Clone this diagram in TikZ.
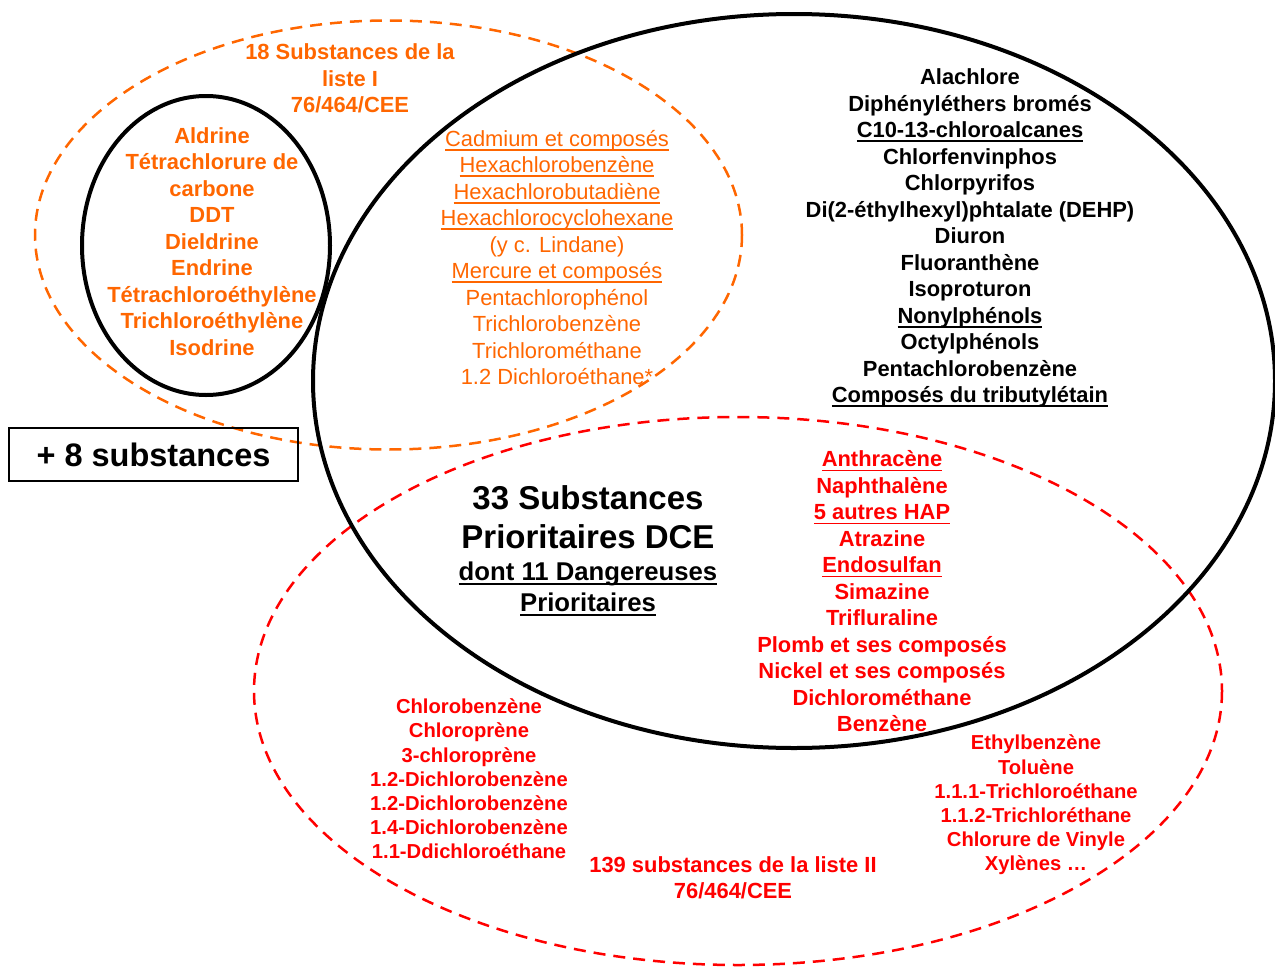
\documentclass[tikz,border=0pt]{standalone}
\usepackage{fontspec}
\setmainfont{Liberation Sans}
\definecolor{orng}{HTML}{FF6600}
\definecolor{rd}{HTML}{FF0000}
\newcommand{\ul}[1]{\setbox0\hbox{#1}\leavevmode\rlap{\rule[-0.2em]{\wd0}{0.08em}}\box0}
\begin{document}
\begin{tikzpicture}[x=1pt,y=-1pt,
  lst/.style={align=center,inner sep=0pt,font=\fontsize{21.9}{26.5}\selectfont\bfseries},
  lstreg/.style={align=center,inner sep=0pt,font=\fontsize{21.9}{26.5}\selectfont},
  lstsm/.style={align=center,inner sep=0pt,font=\fontsize{20.2}{24.2}\selectfont\bfseries},
  odash/.style={draw=orng,line width=2.5pt,dash pattern=on 12pt off 8pt},
  rdash/.style={draw=rd,line width=2.5pt,dash pattern=on 12pt off 8pt},
  blk/.style={draw=black,line width=4pt}]
\useasboundingbox (0,0) rectangle (1275,969);
\begin{scope}
\clip (0,0) rectangle (1275,969);
\draw[odash] (388.5,235) ellipse [x radius=353.5, y radius=214.5];
\draw[rdash] (738,691) ellipse [x radius=484, y radius=274];
\draw[blk] (206,245.5) ellipse [x radius=124, y radius=149.5];
\draw[blk] (794,381) ellipse [x radius=481, y radius=367];
\end{scope}

\node[lst,text=orng] (l1title) at (350,78.5) {18 Substances de la\\liste I\\76/464/CEE};
\node[lst,text=orng] (l1) at (212,241.5) {Aldrine\\Tétrachlorure de\\carbone\\DDT\\Dieldrine\\Endrine\\Tétrachloroéthylène\\Trichloroéthylène\\Isodrine};
\node[lstreg,text=orng] (l1dce) at (557,257.5) {\ul{Cadmium et composés}\\\ul{Hexachlorobenzène}\\\ul{Hexachlorobutadiène}\\\ul{Hexachlorocyclohexane}\\(y c. Lindane)\\\ul{Mercure et composés}\\Pentachlorophénol\\Trichlorobenzène\\Trichlorométhane\\1.2 Dichloroéthane*};
\node[lst,text=black] (dce) at (970,238) {Alachlore\\Diphényléthers bromés\\\ul{C10-13-chloroalcanes}\\Chlorfenvinphos\\Chlorpyrifos\\Di(2-éthylhexyl)phtalate (DEHP)\\Diuron\\Fluoranthène\\Isoproturon\\\ul{Nonylphénols}\\Octylphénols\\Pentachlorobenzène\\\ul{Composés du tributylétain}};
\node[lst,text=rd] (l2dce) at (882,591.5) {\ul{Anthracène}\\Naphthalène\\\ul{5 autres HAP}\\Atrazine\\\ul{Endosulfan}\\Simazine\\Trifluraline\\Plomb et ses composés\\Nickel et ses composés\\Dichlorométhane\\Benzène};
\node[align=center,inner sep=0pt,font=\fontsize{33}{39}\selectfont\bfseries] (t33) at (588,517.5) {33 Substances\\Prioritaires DCE};
\node[align=center,inner sep=0pt,font=\fontsize{25.7}{31}\selectfont\bfseries] (t11) at (588,589) {\ul{dont 11 Dangereuses}\\\ul{Prioritaires}};
\node[lstsm,text=rd] (l2a) at (469,779) {Chlorobenzène\\Chloroprène\\3-chloroprène\\1.2-Dichlorobenzène\\1.2-Dichlorobenzène\\1.4-Dichlorobenzène\\1.1-Ddichloroéthane};
\node[lstsm,text=rd] (l2b) at (1036,805) {Ethylbenzène\\Toluène\\1.1.1-Trichloroéthane\\1.1.2-Trichloréthane\\Chlorure de Vinyle\\Xylènes …};
\node[align=center,inner sep=0pt,font=\fontsize{21.9}{26}\selectfont\bfseries,text=rd] (l2title) at (733,878) {139 substances de la liste II\\76/464/CEE};
\node[draw=black,line width=1.2pt,minimum width=289pt,minimum height=53pt,inner sep=0pt,font=\fontsize{32.5}{38}\selectfont\bfseries] (plus8) at (153.5,454.5) {+ 8 substances};
\end{tikzpicture}
\end{document}
